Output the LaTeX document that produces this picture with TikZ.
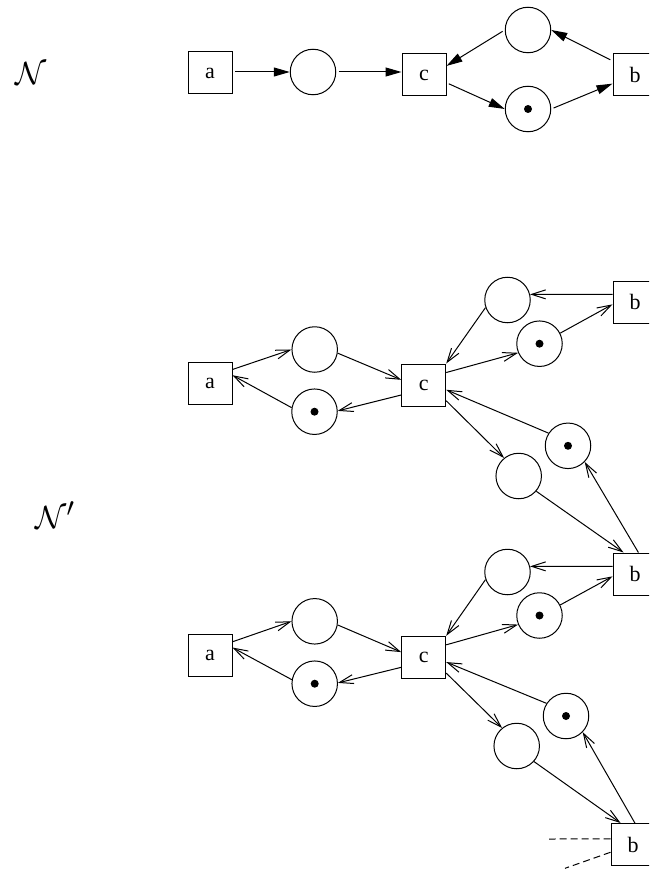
\documentclass[tikz,border=0pt]{standalone}
\usepackage{fontspec}
\setmainfont{Liberation Serif}
\usetikzlibrary{arrows.meta}
\tikzset{trans/.style={draw,rectangle,minimum width=44pt,minimum height=42pt,inner sep=0pt,font=\fontsize{22}{24}\selectfont},
    place/.style={draw,circle,minimum size=45.5pt,inner sep=0pt},
    marked/.style={place,path picture={\fill (path picture bounding box.center) circle (4pt);}},
    netname/.style={font=\fontsize{24.88}{28}\selectfont,scale=1.29},
    arcN/.style={-{Triangle[length=16pt,width=9pt]},shorten <=2.5pt},
    arcU/.style={-{Straight Barb[length=14pt,width=9pt]}},
    cut/.style={dash pattern=on 7pt off 4pt}}

\begin{document}
\begin{tikzpicture}[x=1pt,y=-1pt,line width=1pt]
        \clip (0,0) rectangle (649,872);
        \node[netname] (N) at (31,74) {$\mathcal{N}$};
        \node[trans] (a) at (210,73) {a};
        \node[place] (p) at (313,72) {};
        \node[trans] (c) at (424,75) {c};
        \node[place] (q) at (528,30) {};
        \node[marked] (t) at (528,109) {};
        \node[trans] (b) at (635,75) {b};
        \draw[arcN] (a.east |- p.west) -- (p.west);
        \draw[arcN] (p.east) -- (c.west |- p.east);
        \draw[arcN] (q.west) -- (c.22);
        \draw[arcN] (c.-19) -- (t.west);
        \draw[arcN] (t.east) -- (b.201);
        \draw[arcN] (b.148) -- (q.east);

        \node[netname] (Nu) at (55,515) {$\mathcal{N}'$};
        \node[trans] (a1) at (210,383) {a};
        \node[place] (p1) at (314.7,349.5) {};
        \node[marked] (p2) at (314.5,411.7) {};
        \node[trans] (c1) at (423.7,385) {c};
        \node[place] (q1) at (507.5,300) {};
        \node[marked] (q2) at (539.5,343.7) {};
        \node[trans] (b1) at (635,302) {b};
        \node[marked] (r1) at (568,445.8) {};
        \node[place] (r2) at (518.7,476) {};
        \node[trans] (b2) at (635,574) {b};
        \draw[arcU] (a1.31) -- (p1.west);
        \draw[arcU] (p2.170) -- (a1.19);
        \draw[arcU] (p1.-9) -- (c1.167);
        \draw[arcU] (c1.204) -- (p2.2);
        \draw[arcU] (q1.199) -- (c1.north east);
        \draw[arcU] (c1.29) -- (q2.203);
        \draw[arcU] (b1.161) -- (q1.14);
        \draw[arcU] (q2.27) -- (b1.186);
        \draw[arcU] (r1.147) -- (c1.-12);
        \draw[arcU] (c1.-35) -- (r2.129);
        \draw[arcU] (r2.-41) -- (b2.118);
        \draw[arcU] (b2.81) -- (r1.-44);

        \node[trans] (a2) at (210,655.3) {a};
        \node[place] (p3) at (314.7,621.3) {};
        \node[marked] (p4) at (314.7,683.7) {};
        \node[trans] (c2) at (423.7,657.3) {c};
        \node[place] (q3) at (507.5,572) {};
        \node[marked] (q4) at (539.5,615.5) {};
        \node[marked] (r3) at (566,716) {};
        \node[place] (r4) at (516.7,746) {};
        \node[trans] (b3) at (633,844.5) {b};
        \draw[arcU] (a2.31) -- (p3.west);
        \draw[arcU] (p4.170) -- (a2.19);
        \draw[arcU] (p3.-9) -- (c2.167);
        \draw[arcU] (c2.204) -- (p4.2);
        \draw[arcU] (q3.199) -- (c2.north east);
        \draw[arcU] (c2.29) -- (q4.203);
        \draw[arcU] (b2.161) -- (q3.14);
        \draw[arcU] (q4.27) -- (b2.186);
        \draw[arcU] (r3.147) -- (c2.-12);
        \draw[arcU] (c2.-35) -- (r4.129);
        \draw[arcU] (r4.-42) -- (b3.120);
        \draw[arcU] (b3.85) -- (r3.-44);

        \coordinate (d1) at (549,839);
        \coordinate (d2) at (565,868.3);
        \draw[cut] (b3.166) -- (d1);
        \draw[cut] (b3.199) -- (d2);
    \end{tikzpicture}
\end{document}
